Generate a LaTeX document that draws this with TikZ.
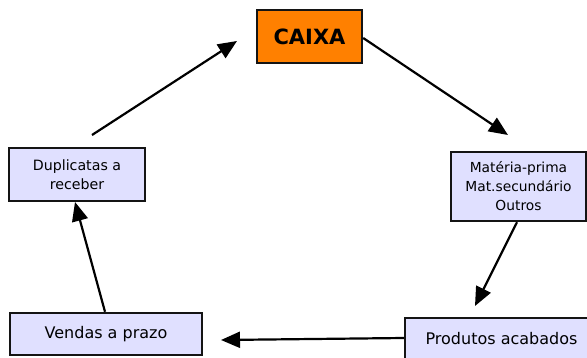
\documentclass[tikz,border=0pt]{standalone}
\usepackage{fontspec}
\setmainfont{DejaVu Sans}
\usetikzlibrary{arrows.meta}
\definecolor{boxfill}{RGB}{224,224,255}
\definecolor{cashfill}{RGB}{255,128,0}
\definecolor{edge}{RGB}{20,20,20}
\tikzset{
  stage/.style={draw=edge, line width=2.4pt, fill=boxfill, inner sep=0pt,
    align=center, font=\fontsize{13.8}{19}\selectfont},
  cash/.style={draw=edge, line width=2.4pt, fill=cashfill, inner sep=0pt,
    font=\fontsize{21}{24}\selectfont\bfseries},
  flow/.style={draw=black, line width=2.2pt,
    -{Triangle[length=19pt,width=16pt]}}
}
\begin{document}
\begin{tikzpicture}[x=1pt,y=-1pt]
\useasboundingbox (0,0) rectangle (587,357);
% cash node at the top of the cycle
\node[cash, minimum width=105pt, minimum height=53pt] (caixa) at (309.5,36.5) {CAIXA};
% stages of the operating cycle
\node[stage, minimum width=135pt, minimum height=69pt] (mat) at (518.5,186.5)
  {Matéria-prima\\Mat.secundário\\Outros};
\node[stage, minimum width=193pt, minimum height=42pt, font=\fontsize{16}{19}\selectfont] (prod) at (501.5,339) {Produtos acabados};
\node[stage, minimum width=192pt, minimum height=42pt, font=\fontsize{16}{19}\selectfont] (vendas) at (106,334) {Vendas a prazo};
\node[stage, minimum width=136pt, minimum height=53pt, font=\fontsize{14.2}{19}\selectfont] (dup) at (77,174.5)
  {Duplicatas a\\receber};
% arrow end points, left short of the boxes
\coordinate (t1) at (508,135);
\coordinate (t2) at (475,306);
\coordinate (t3) at (221,340);
\coordinate (t4) at (75,202);
\coordinate (s5) at (92,135);
\coordinate (t5) at (237,41);
% flow of the cycle
\draw[flow] ([yshift=-1.5pt]caixa.east) -- (t1);
\draw[flow] ([xshift=-1.5pt]mat.south) -- (t2);
\draw[flow] ([yshift=1pt]prod.west) -- (t3);
\draw[flow] ([xshift=-1pt]vendas.north) -- (t4);
\draw[flow] (s5) -- (t5);
\end{tikzpicture}
\end{document}
